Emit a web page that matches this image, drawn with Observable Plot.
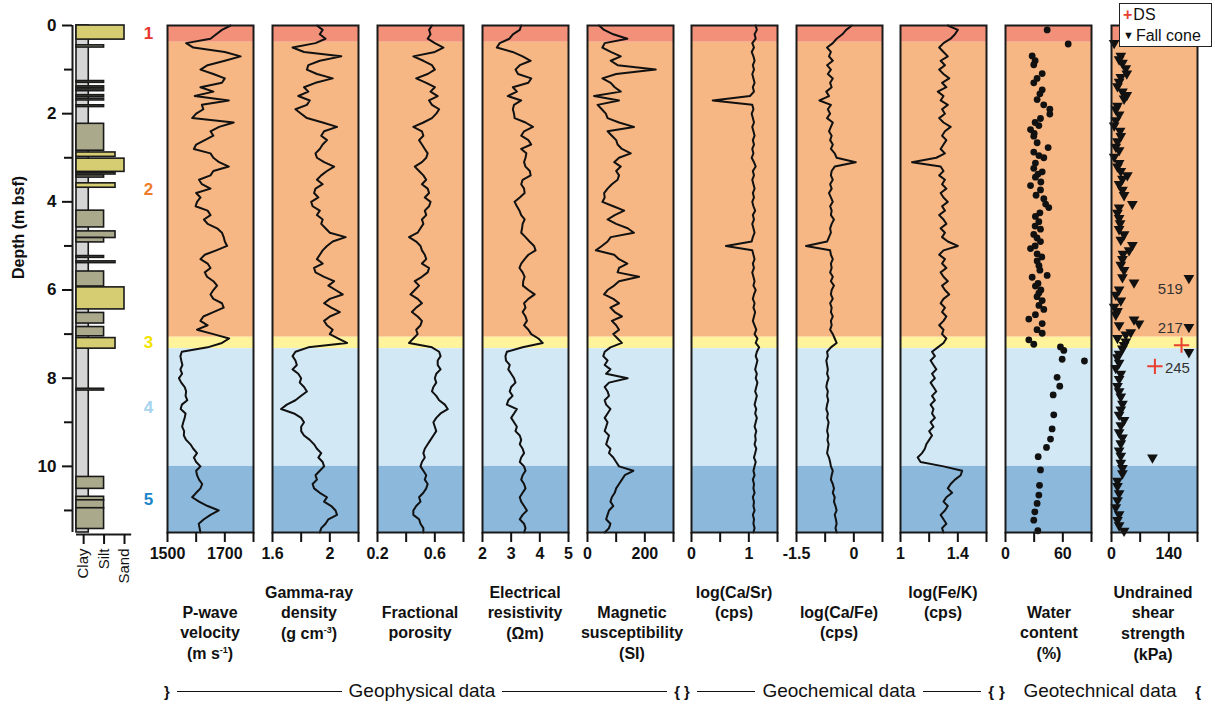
<!DOCTYPE html>
<html>
<head>
<meta charset="utf-8">
<script src="https://cdn.jsdelivr.net/npm/d3@7"></script>
<script src="https://cdn.jsdelivr.net/npm/@observablehq/plot@0.6"></script>
<style>
  body { margin: 0; background: #fff; font-family: "Liberation Sans", Arial, Helvetica, sans-serif; color: #111; }
  #chart { position: relative; width: 1215px; height: 704px; overflow: hidden; background: #fff; }
  #chart svg g[aria-label="x-axis tick"], #chart svg g[aria-label="y-axis tick"] { stroke-width: 2px; }
  .title { position: absolute; font-weight: bold; font-size: 16px; line-height: 20.7px; text-align: center; white-space: nowrap; transform: translateX(-50%); }
  .title sup { font-size: 9px; line-height: 0; vertical-align: 6px; }
  .group { position: absolute; top: 679px; height: 24px; display: flex; align-items: center; font-size: 19px; font-family: "Liberation Sans Narrow", "Liberation Sans", Arial, sans-serif; font-stretch: condensed; }
  .group .brace { font-weight: bold; font-size: 15px; }
  .group .rule { flex: 1; border-top: 1.3px solid #111; height: 0; margin: 0 7px; }
  .group .gap { flex: 1; }
  #legend { position: absolute; left: 1119px; top: 3px; width: 93px; height: 44px; border: 1px solid #222; background: #fff; font-size: 16px; line-height: 21px; box-sizing: border-box; padding-left: 3px; }
  #legend .ds { color: #e8402f; font-weight: bold; margin-right: 1px; }
  #legend .fc { font-size: 11px; vertical-align: 2px; margin-right: 2px; }
</style>
</head>
<body>
<div id="chart"></div>
<script>
// ---------------------------------------------------------------------------
// Core log data, sampled every 0.1 m from 0.0 to 11.5 m below sea floor
// ---------------------------------------------------------------------------
const sampleCount = 116;
const depth = d3.range(sampleCount).map(i => i / 10);

const pwave = [
  1720,1690,1670,1650,1565,1590,1700,1755,1700,1640,
  1615,1660,1700,1690,1615,1660,1595,1714,1620,1625,
  1600,1586,1731,1680,1650,1660,1630,1600,1592,1650,
  1660,1680,1714,1660,1650,1610,1620,1650,1600,1615,
  1603,1598,1640,1650,1627,1640,1673,1690,1696,1700,
  1708,1670,1630,1615,1640,1650,1630,1638,1660,1673,
  1660,1650,1660,1690,1696,1660,1625,1615,1640,1603,
  1660,1715,1690,1640,1550,1545,1548,1552,1545,1551,
  1540,1548,1560,1565,1563,1569,1550,1546,1563,1560,
  1555,1551,1558,1557,1565,1580,1590,1603,1592,1600,
  1615,1600,1603,1610,1621,1615,1600,1586,1610,1640,
  1679,1650,1627,1609,1612,1615
];

const gammaDensity = [
  1.91,1.95,1.93,1.97,1.90,1.74,1.82,2.08,1.93,1.85,
  1.84,1.91,2.02,1.90,1.82,1.85,1.78,1.86,1.84,1.76,
  1.80,1.84,1.95,2.05,1.96,1.94,1.98,1.95,1.93,1.90,
  1.91,1.96,2.03,1.98,1.94,1.91,1.95,1.90,1.89,1.92,
  1.87,1.88,1.93,1.91,1.95,1.94,1.97,2.00,2.11,2.02,
  1.98,1.95,1.93,1.91,1.95,1.89,1.90,1.96,2.03,1.99,
  2.04,2.09,2.00,1.96,2.01,2.07,2.00,1.96,1.98,2.02,
  2.00,2.06,2.12,1.85,1.76,1.74,1.76,1.77,1.74,1.78,
  1.80,1.79,1.82,1.84,1.80,1.76,1.70,1.66,1.75,1.80,
  1.82,1.80,1.80,1.82,1.86,1.89,1.91,1.94,1.92,1.95,
  1.96,1.93,1.90,1.91,1.88,1.89,1.93,1.98,1.96,2.01,
  2.04,2.05,1.99,1.97,1.94,1.93
];

const porosity = [
  0.58,0.56,0.57,0.55,0.60,0.66,0.60,0.45,0.52,0.58,
  0.60,0.55,0.47,0.54,0.60,0.57,0.62,0.56,0.58,0.63,
  0.61,0.58,0.52,0.45,0.51,0.52,0.49,0.51,0.53,0.55,
  0.54,0.51,0.46,0.49,0.52,0.54,0.51,0.55,0.56,0.53,
  0.57,0.56,0.53,0.54,0.51,0.52,0.50,0.48,0.42,0.47,
  0.50,0.51,0.53,0.54,0.51,0.56,0.55,0.51,0.46,0.49,
  0.46,0.43,0.48,0.51,0.47,0.44,0.48,0.51,0.50,0.47,
  0.48,0.45,0.42,0.58,0.63,0.64,0.62,0.62,0.64,0.61,
  0.60,0.61,0.59,0.58,0.61,0.63,0.67,0.69,0.64,0.61,
  0.59,0.60,0.61,0.59,0.57,0.55,0.53,0.52,0.53,0.51,
  0.50,0.52,0.54,0.53,0.55,0.54,0.52,0.49,0.50,0.47,
  0.45,0.45,0.49,0.50,0.52,0.52
];

const resistivity = [
  3.35,3.30,3.06,2.94,2.60,2.50,3.05,3.40,3.68,3.30,
  3.15,3.24,3.70,3.60,3.06,3.20,2.88,3.35,3.10,3.06,
  3.10,3.12,3.50,3.76,3.45,3.35,3.60,3.70,3.35,3.53,
  3.50,3.45,3.50,3.65,3.68,3.40,3.35,3.45,3.47,3.30,
  3.12,3.20,3.29,3.35,3.47,3.40,3.38,3.35,3.50,3.64,
  3.80,3.85,3.60,3.47,3.35,3.29,3.40,3.47,3.42,3.41,
  3.60,3.82,3.60,3.45,3.50,3.40,3.50,3.55,3.45,3.60,
  3.70,3.95,4.10,3.40,2.85,2.80,2.82,2.95,2.90,3.00,
  3.10,3.15,3.00,2.95,3.05,2.90,2.85,3.20,3.10,3.00,
  3.10,3.20,3.15,3.30,3.35,3.30,3.40,3.45,3.35,3.30,
  3.45,3.50,3.40,3.35,3.45,3.50,3.40,3.30,3.35,3.45,
  3.55,3.40,3.30,3.45,3.50,3.45
];

const magSusceptibility = [
  40,58,90,139,60,52,81,116,81,105,
  238,100,52,81,95,116,23,110,35,50,
  64,70,110,162,70,85,100,105,120,151,
  110,93,116,100,110,105,85,70,58,60,
  52,90,128,95,70,100,140,162,81,70,
  50,29,93,110,139,110,105,180,110,93,
  70,58,90,110,80,95,120,85,100,110,
  90,105,120,80,60,55,70,60,80,65,
  140,75,60,70,75,60,65,80,70,60,
  70,65,60,75,70,65,80,75,90,100,
  110,160,130,120,110,100,95,85,80,90,
  75,70,65,80,75,60
];

const logCaSr = [
  1.12,1.14,1.10,1.12,1.06,1.09,1.05,1.08,1.10,1.07,
  1.09,1.06,1.08,1.10,1.07,1.09,1.02,0.37,1.06,1.08,
  1.05,1.07,1.09,1.06,1.08,1.10,1.07,1.09,1.06,1.08,
  1.05,1.09,1.12,1.07,1.09,1.06,1.08,1.10,1.07,1.09,
  1.06,1.08,1.11,1.07,1.09,1.06,1.08,1.10,1.07,1.05,
  0.60,1.06,1.08,1.10,1.07,1.09,1.06,1.08,1.10,1.08,
  1.12,1.09,1.07,1.10,1.08,1.11,1.09,1.07,1.10,1.13,
  1.10,1.15,1.12,1.18,1.14,1.12,1.15,1.13,1.11,1.14,
  1.12,1.15,1.13,1.11,1.14,1.12,1.10,1.13,1.11,1.14,
  1.12,1.10,1.13,1.11,1.12,1.10,1.13,1.11,1.09,1.12,
  1.10,1.08,1.10,1.07,1.09,1.08,1.10,1.07,1.09,1.08,
  1.10,1.07,1.09,1.08,1.10,1.08
];

const logCaFe = [
  -0.05,-0.20,-0.30,-0.45,-0.55,-0.70,-0.60,-0.65,-0.55,-0.70,
  -0.60,-0.68,-0.55,-0.62,-0.58,-0.72,-0.65,-0.90,-0.60,-0.68,
  -0.62,-0.70,-0.55,-0.60,-0.65,-0.58,-0.62,-0.55,-0.60,-0.50,
  -0.45,0.05,-0.50,-0.58,-0.60,-0.55,-0.62,-0.58,-0.65,-0.60,
  -0.55,-0.62,-0.58,-0.60,-0.52,-0.58,-0.62,-0.60,-0.65,-0.70,
  -1.25,-0.62,-0.60,-0.55,-0.60,-0.58,-0.62,-0.55,-0.60,-0.52,
  -0.58,-0.60,-0.55,-0.62,-0.58,-0.60,-0.55,-0.60,-0.58,-0.62,
  -0.55,-0.50,-0.45,-0.60,-0.70,-0.68,-0.72,-0.70,-0.68,-0.70,
  -0.66,-0.70,-0.72,-0.68,-0.70,-0.67,-0.70,-0.72,-0.68,-0.70,
  -0.66,-0.68,-0.70,-0.67,-0.69,-0.66,-0.68,-0.70,-0.65,-0.62,
  -0.60,-0.55,-0.58,-0.60,-0.55,-0.52,-0.55,-0.50,-0.52,-0.48,
  -0.45,-0.50,-0.47,-0.45,-0.48,-0.45
];

const logFeK = [
  1.33,1.40,1.38,1.35,1.30,1.27,1.30,1.33,1.28,1.31,
  1.27,1.30,1.34,1.29,1.32,1.26,1.30,1.28,1.33,1.29,
  1.31,1.27,1.30,1.35,1.31,1.29,1.32,1.30,1.28,1.31,
  1.25,1.08,1.28,1.30,1.27,1.31,1.29,1.32,1.28,1.30,
  1.33,1.29,1.31,1.27,1.30,1.32,1.28,1.31,1.29,1.33,
  1.40,1.30,1.27,1.31,1.29,1.32,1.28,1.30,1.33,1.29,
  1.31,1.34,1.30,1.28,1.31,1.29,1.32,1.30,1.27,1.30,
  1.29,1.32,1.30,1.26,1.22,1.24,1.21,1.23,1.25,1.22,
  1.24,1.21,1.23,1.25,1.22,1.24,1.21,1.23,1.22,1.24,
  1.21,1.23,1.20,1.22,1.20,1.18,1.17,1.15,1.12,1.14,
  1.30,1.43,1.42,1.38,1.35,1.33,1.36,1.32,1.30,1.33,
  1.31,1.28,1.30,1.32,1.29,1.30
];

// Discrete geotechnical samples
const waterDepth = [0.10,0.42,0.69,0.80,0.89,1.09,1.20,1.30,1.46,1.55,1.68,1.80,1.90,2.01,2.11,2.20,2.27,2.36,2.45,2.51,2.66,2.77,2.87,2.95,3.00,3.12,3.24,3.32,3.37,3.44,3.55,3.63,3.73,3.85,3.93,4.05,4.13,4.25,4.33,4.45,4.55,4.62,4.74,4.82,4.90,5.00,5.06,5.18,5.25,5.34,5.45,5.55,5.67,5.71,5.85,5.91,6.00,6.07,6.15,6.24,6.35,6.44,6.56,6.66,6.76,6.90,6.98,7.13,7.23,7.29,7.37,7.57,7.61,7.98,8.18,8.38,8.83,9.15,9.38,9.57,9.78,10.08,10.43,10.65,10.84,11.03,11.22,11.46];
const waterContent = [43.6,65.6,27.9,31.0,29.6,38.4,33.0,29.6,38.4,36.0,33.1,40.0,46.4,46.4,36.6,31.0,34.9,26.2,30.0,29.6,33.1,44.6,29.6,35.0,40.1,31.3,29.6,38.4,34.0,31.3,37.0,26.2,36.6,32.0,40.1,42.0,45.3,36.0,31.3,34.9,31.0,36.6,29.6,33.0,36.6,31.0,26.2,33.1,38.0,33.1,35.0,36.0,43.6,27.9,34.0,31.3,37.0,34.9,33.0,38.4,35.0,40.1,31.3,24.4,38.4,33.0,38.4,24.4,29.6,57.5,61.0,59.3,82.6,54.0,56.8,49.9,50.5,48.8,47.1,42.9,34.2,36.6,35.6,34.9,33.1,30.7,29.6,33.8];

const fallConeDepth = [0.40,0.69,0.77,0.85,0.97,1.09,1.17,1.28,1.38,1.50,1.58,1.66,1.82,1.90,2.02,2.15,2.27,2.39,2.51,2.63,2.75,2.83,2.98,3.12,3.20,3.30,3.40,3.48,3.60,3.73,3.85,4.05,4.13,4.25,4.37,4.49,4.62,4.74,4.86,4.98,5.10,5.18,5.30,5.43,5.55,5.71,5.73,5.83,5.99,6.11,6.24,6.38,6.48,6.56,6.67,6.76,6.80,6.84,6.96,7.01,7.09,7.17,7.25,7.33,7.41,7.45,7.53,7.65,7.77,7.90,8.02,8.18,8.30,8.42,8.58,8.71,8.83,8.95,9.07,9.23,9.35,9.48,9.64,9.76,9.80,9.92,10.04,10.16,10.33,10.45,10.61,10.77,10.93,11.09,11.22,11.34,11.46];
const fallConeStrength = [6.5,22.7,18.6,26.7,34.8,37.3,22.7,18.6,14.6,26.7,37.3,30.7,14.6,10.5,18.6,10.5,6.5,21,22.7,14.6,10.5,18.6,6.5,18.6,14.6,22.7,38.7,26.7,18.6,26.7,30.7,51,18.6,14.6,18.6,21,18.6,30.7,22.7,51,42.9,28,26.7,22.7,30.7,26.7,519,55,18.6,10.5,22.7,6.5,14.6,10.5,55,67,18.6,217,47,34.8,14.6,34.8,30.7,26.7,245,18.6,14.6,18.6,10.5,22.7,18.6,14.6,18.6,22.7,26.7,22.7,18.6,30.7,22.7,18.6,26.7,22.7,18.6,22.7,100,22.7,26.7,26.7,14.6,14.6,18.6,14.6,10.5,18.6,14.6,18.6,30.7];

const directShearDepth = [7.25, 7.73];
const directShearStrength = [171, 106];

// Lithostratigraphic units
const unitNames = ["1", "2", "3", "4", "5"];
const unitTop   = [0, 0.38, 7.07, 7.33, 10.0];
const unitBase  = [0.38, 7.07, 7.33, 10.0, 11.5];
const unitFill  = ["#f3907a", "#f7b784", "#fff49c", "#d3e8f5", "#8bb8db"];
const unitInk   = ["#e8342c", "#f07c2a", "#f4e200", "#a6d4ef", "#1b86c7"];

// Graphic log beds (grain size: 1 clay, 2 silt, 3 sand)
const bedTop   = [0.00,0.45,1.26,1.38,1.45,1.58,1.66,1.81,2.23,2.88,3.02,3.34,3.40,3.58,4.20,4.67,4.82,5.23,5.35,5.58,5.94,6.52,6.84,7.09,8.24,10.24,10.69,10.77,10.95];
const bedBase  = [0.32,0.50,1.30,1.42,1.49,1.62,1.70,1.85,2.84,2.98,3.32,3.38,3.45,3.68,4.58,4.82,4.92,5.27,5.39,5.92,6.44,6.76,7.05,7.33,8.28,10.51,10.77,10.95,11.42];
const bedGrain = [3,2,2,2,2,2,2,2,2,2.56,3,2.56,2,2.56,2,2.56,2,2,2.56,2,3,2,2,2.56,2,2,2,2,2];
const bedType  = ["sand","silt","silt","silt","silt","silt","silt","silt","silt","sand","sand","silt","silt","sand","silt","silt","silt","silt","silt","silt","sand","silt","silt","sand","silt","silt","silt","silt","silt"];
const grainTicks = [1, 2, 3];
const grainNames = ["Clay", "Silt", "Sand"];

// ---------------------------------------------------------------------------
const units = unitNames.map((name, i) => ({name, top: unitTop[i], base: unitBase[i], fill: unitFill[i], ink: unitInk[i]}));
const beds = bedTop.map((top, i) => ({top, base: bedBase[i], grain: bedGrain[i], fill: bedType[i] === "sand" ? "#d6cd72" : "#aba98c"}));

const chart = document.getElementById("chart");
const FRAME_TOP = 25, FRAME_BOTTOM = 532, SVG_H = 578, PANEL_W = 86, PAD = 28;
const baseStyle = {
  fontFamily: "'Liberation Sans', Arial, Helvetica, sans-serif",
  fontSize: "16px", fontWeight: "bold", color: "#111",
  background: "transparent", overflow: "visible"
};

function place(node, left) {
  node.style.position = "absolute";
  node.style.left = left + "px";
  node.style.top = "0px";
  chart.appendChild(node);
}

// ---------------- graphic log with depth axis ----------------
const LOG_LEFT = 76, LOG_W = 48;
const logPlot = Plot.plot({
  width: 170, height: 592,
  marginLeft: LOG_LEFT, marginRight: 170 - LOG_LEFT - LOG_W, marginTop: FRAME_TOP, marginBottom: 592 - FRAME_BOTTOM,
  x: {domain: [0.65, 3], axis: null},
  y: {domain: [0, 11.5], reverse: true, axis: null},
  color: {type: "identity"},
  style: baseStyle,
  marks: [
    Plot.rect([0], {x1: 0.65, x2: 1.25, y1: 0, y2: 11.5, fill: "#d5d5d5", stroke: "#1a1a1a", strokeWidth: 1.6}),
    Plot.rect(beds, {x1: 0.65, x2: "grain", y1: "top", y2: "base", fill: "fill", stroke: "#1a1a1a", strokeWidth: 1.6}),
    Plot.ruleX([0.65], {y1: 0, y2: 11.5, dx: -4, stroke: "#1a1a1a", strokeWidth: 2}),
    Plot.ruleY([11.5], {x1: 0.65, x2: 3.35, stroke: "#1a1a1a", strokeWidth: 2, dy: 2}),
    Plot.axisY({ticks: [0, 2, 4, 6, 8, 10], tickSize: 10, tickPadding: 6, dx: -4, label: null, fontSize: 17}),
    Plot.axisY({ticks: [1, 3, 5, 7, 9, 11], tickSize: 8, tickFormat: () => "", dx: -4, label: null}),
    Plot.axisX({ticks: grainTicks, tickFormat: v => grainNames[v - 1], tickRotate: -90, tickSize: 10, tickPadding: 4,
                dy: 2, label: null, fontSize: 15, fontWeight: "normal"}),
    Plot.text(["Depth (m bsf)"], {frameAnchor: "left", dx: -58, rotate: -90, fontSize: 16, fontWeight: "bold"}),
    Plot.text(units, {x: 4.17, y: d => (d.top + d.base) / 2, text: "name", fill: "ink", fontSize: 17, fontWeight: "bold"})
  ]
});
place(logPlot, 0);

// ---------------- measurement tracks ----------------
const tracks = [
  {values: pwave,            domain: [1500, 1800], ticks: [1500, 1600, 1700, 1800], labels: [1500, 1700], left: 167},
  {values: gammaDensity,     domain: [1.6, 2.2],   ticks: [1.6, 1.8, 2.0, 2.2],     labels: [1.6, 2.0],   left: 272},
  {values: porosity,         domain: [0.2, 0.8],   ticks: [0.2, 0.4, 0.6, 0.8],     labels: [0.2, 0.6],   left: 377},
  {values: resistivity,      domain: [2, 5],       ticks: [2, 3, 4, 5],             labels: [2, 3, 4, 5], left: 482},
  {values: magSusceptibility,domain: [0, 300],     ticks: [0, 100, 200, 300],       labels: [0, 200],     left: 587},
  {values: logCaSr,          domain: [0, 1.5],     ticks: [0, 0.5, 1, 1.5],         labels: [0, 1],       left: 691},
  {values: logCaFe,          domain: [-1.5, 0.75], ticks: [-1.5, -0.75, 0, 0.75],   labels: [-1.5, 0],    left: 796},
  {values: logFeK,           domain: [1, 1.6],     ticks: [1, 1.2, 1.4, 1.6],       labels: [1, 1.4],     left: 900}
];

function trackPlot(domain, ticks, labels, marks) {
  return Plot.plot({
    width: PANEL_W + 2 * PAD, height: SVG_H,
    marginLeft: PAD, marginRight: PAD, marginTop: FRAME_TOP, marginBottom: SVG_H - FRAME_BOTTOM,
    x: {domain, axis: null},
    y: {domain: [0, 11.5], reverse: true, axis: null},
    color: {type: "identity"},
    style: baseStyle,
    marks: [
      Plot.rect(units, {x1: domain[0], x2: domain[1], y1: "top", y2: "base", fill: "fill"}),
      ...marks,
      Plot.frame({stroke: "#1a1a1a", strokeWidth: 2}),
      Plot.axisX({ticks, tickFormat: v => labels.includes(v) ? String(v) : "", tickSize: 10, tickPadding: 5, label: null})
    ]
  });
}

tracks.forEach(t => {
  const rows = depth.map((d, i) => ({d, v: t.values[i]}));
  const svg = trackPlot(t.domain, t.ticks, t.labels, [
    Plot.line(rows, {x: "v", y: "d", stroke: "#111", strokeWidth: 2})
  ]);
  place(svg, t.left - PAD);
});

// Water content
const water = waterDepth.map((d, i) => ({d, v: waterContent[i]}));
place(trackPlot([0, 90], [0, 30, 60, 90], [0, 60], [
  Plot.dot(water, {x: "v", y: "d", r: 3.4, fill: "#111"})
]), 1005 - PAD);

// Undrained shear strength; values beyond the axis sit at the right edge with their value written beside
const OFFSCALE_AT = 189;
const fallCone = fallConeDepth.map((d, i) => ({d, v: fallConeStrength[i]}));
const offscale = fallCone.filter(o => o.v > 210);
const directShear = directShearDepth.map((d, i) => ({d, v: directShearStrength[i]}));
const labelPlacement = {
  519: {dx: -6, dy: 11, textAnchor: "end"},
  217: {dx: -6, dy: 1, textAnchor: "end"},
  245: {dx: -24, dy: 16, textAnchor: "start"}
};
place(trackPlot([0, 210], [0, 70, 140, 210], [0, 140], [
  Plot.dot(fallCone, {x: o => Math.min(o.v, OFFSCALE_AT), y: "d", symbol: "triangle", rotate: 180, r: 4, fill: "#111", stroke: "none"}),
  Plot.dot(directShear, {x: "v", y: "d", symbol: "plus", r: 5, stroke: "#e8402f", strokeWidth: 2}),
  ...offscale.map(o => Plot.text([o], {x: OFFSCALE_AT, y: "d", text: "v", fill: "#333", fontSize: 15, fontWeight: "normal", ...labelPlacement[o.v]}))
]), 1111 - PAD);

// ---------------- track titles ----------------
const titleRows = [593, 613, 634, 655];
const titles = [
  {x: 210,  row: 1, lines: ["P-wave", "velocity", "(m s<sup>-1</sup>)"]},
  {x: 309,  row: 0, lines: ["Gamma-ray", "density", "(g cm<sup>-3</sup>)"]},
  {x: 420,  row: 1, lines: ["Fractional", "porosity"]},
  {x: 525,  row: 0, lines: ["Electrical", "resistivity", "(Ωm)"]},
  {x: 632,  row: 1, lines: ["Magnetic", "susceptibility", "(SI)"]},
  {x: 734,  row: 0, lines: ["log(Ca/Sr)", "(cps)"]},
  {x: 839,  row: 1, lines: ["log(Ca/Fe)", "(cps)"]},
  {x: 943,  row: 0, lines: ["log(Fe/K)", "(cps)"]},
  {x: 1049, row: 1, lines: ["Water", "content", "(%)"]},
  {x: 1153, row: 0, lines: ["Undrained", "shear", "strength", "(kPa)"]}
];
titles.forEach(t => {
  const div = document.createElement("div");
  div.className = "title";
  div.style.left = t.x + "px";
  div.style.top = (titleRows[t.row] - 10.35) + "px";
  div.innerHTML = t.lines.join("<br>");
  chart.appendChild(div);
});

// ---------------- data group brackets ----------------
const groups = [
  {name: "Geophysical data", x1: 164, x2: 680, rules: true},
  {name: "Geochemical data", x1: 684, x2: 994, rules: true},
  {name: "Geotechnical data", x1: 999, x2: 1201, rules: false}
];
groups.forEach(g => {
  const div = document.createElement("div");
  div.className = "group";
  div.style.left = g.x1 + "px";
  div.style.width = (g.x2 - g.x1) + "px";
  const fill = g.rules ? '<span class="rule"></span>' : '<span class="gap"></span>';
  div.innerHTML = `<span class="brace">}</span>${fill}<span>${g.name}</span>${fill}<span class="brace">{</span>`;
  chart.appendChild(div);
});

// ---------------- legend ----------------
const legend = document.createElement("div");
legend.id = "legend";
legend.innerHTML = '<div><span class="ds">+</span>DS</div><div><span class="fc">▼</span>Fall cone</div>';
chart.appendChild(legend);
</script>
</body>
</html>
